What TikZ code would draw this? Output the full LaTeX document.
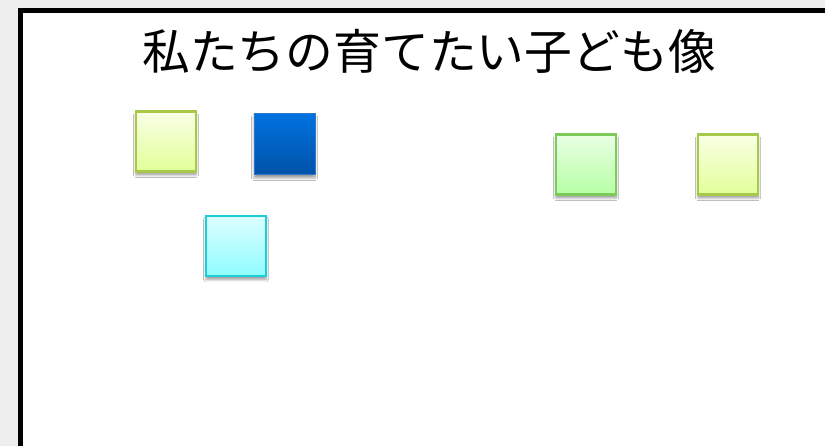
\documentclass[tikz,border=0pt]{standalone}
\usepackage{fontspec}
\newfontfamily\jpfont{Noto Sans CJK JP}
\usetikzlibrary{shadows.blur}
\definecolor{ygtop}{HTML}{F9FFE6}
\definecolor{ygbot}{HTML}{E2FF98}
\definecolor{ygline}{HTML}{A8C84A}
\definecolor{bltop}{HTML}{0072E0}
\definecolor{blbot}{HTML}{0052A8}
\definecolor{blline}{HTML}{2E78C8}
\definecolor{cytop}{HTML}{DEFEFF}
\definecolor{cybot}{HTML}{8EFCFF}
\definecolor{cyline}{HTML}{1CCED6}
\definecolor{grtop}{HTML}{EAFFE4}
\definecolor{grbot}{HTML}{B6FFA6}
\definecolor{grline}{HTML}{7CCA5A}
\definecolor{bggray}{HTML}{EEEEEE}
\tikzset{
  note/.style={draw, line width=2.2pt, minimum width=#1, minimum height=#1, inner sep=0pt,
    blur shadow={shadow xshift=0pt, shadow yshift=-3.5pt, shadow blur steps=8, shadow blur radius=2.5pt, shadow opacity=40}},
  yg/.style={note=60pt, draw=ygline, top color=ygtop, bottom color=ygbot},
  bl/.style={note=61pt, draw=blline, line width=0.8pt, top color=bltop, bottom color=blbot},
  cy/.style={note=60pt, draw=cyline, top color=cytop, bottom color=cybot},
  gr/.style={note=60pt, draw=grline, top color=grtop, bottom color=grbot},
  titlestyle/.style={font=\jpfont\fontsize{47.8}{50}\selectfont, text=black, inner sep=0pt}
}
\begin{document}
\begin{tikzpicture}[x=1pt,y=1pt]
\useasboundingbox (0,0) rectangle (825,446);
\fill[bggray] (0,0) rectangle (825,446);
\draw[line width=5pt, fill=white] (20.5,-10) rectangle (840,435.5);
\node[titlestyle] (title) at (429,395) {私たちの育てたい子ども像};
\node[yg] (n1) at (166,304.5) {};
\node[bl] (n2) at (284.5,302) {};
\node[cy] (n3) at (236,200) {};
\node[gr] (n4) at (586,281.5) {};
\node[yg] (n5) at (728,281.5) {};
\end{tikzpicture}
\end{document}
